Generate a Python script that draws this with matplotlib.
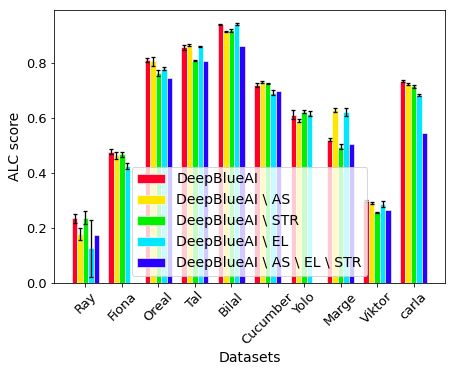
import numpy as np
import matplotlib
matplotlib.use("Agg")
import matplotlib.pyplot as plt

datasets = ["Ray", "Fiona", "Oreal", "Tal", "Bilal", "Cucumber", "Yolo", "Marge", "Viktor", "carla"]
labels = ["DeepBlueAI", "DeepBlueAI \\ AS", "DeepBlueAI \\ STR",
          "DeepBlueAI \\ EL", "DeepBlueAI \\ AS \\ EL \\ STR"]

full      = [0.235, 0.478, 0.812, 0.858, 0.941, 0.720, 0.612, 0.522, 0.297, 0.736]
no_as     = [0.177, 0.464, 0.806, 0.866, 0.914, 0.731, 0.591, 0.629, 0.290, 0.725]
no_str    = [0.238, 0.468, 0.764, 0.809, 0.920, 0.727, 0.623, 0.496, 0.258, 0.715]
no_el     = [0.126, 0.426, 0.780, 0.862, 0.943, 0.692, 0.616, 0.622, 0.286, 0.685]
no_all    = [0.173, 0.0,   0.747, 0.808, 0.863, 0.700, 0.0,   0.507, 0.264, 0.547]

err_full   = [0.015, 0.010, 0.008, 0.009, 0.003, 0.008, 0.016, 0.007, 0.004, 0.003]
err_no_as  = [0.022, 0.014, 0.015, 0.004, 0.002, 0.004, 0.006, 0.006, 0.004, 0.003]
err_no_str = [0.025, 0.009, 0.010, 0.003, 0.005, 0.002, 0.006, 0.009, 0.002, 0.005]
err_no_el  = [0.105, 0.010, 0.006, 0.002, 0.003, 0.009, 0.010, 0.013, 0.011, 0.004]

series = [full, no_as, no_str, no_el, no_all]
errors = [err_full, err_no_as, err_no_str, err_no_el, None]
colors = ["#FF0028", "#FFE600", "#00F000", "#00E8FF", "#2A00FF"]

fig = plt.figure(figsize=(455 / 72, 375 / 72), dpi=72)
ax = fig.add_axes([54 / 455, 92 / 375, 391 / 455, 273 / 375])

x = np.arange(len(datasets))
width = 0.15
for i, (vals, err, col, lab) in enumerate(zip(series, errors, colors, labels)):
    ax.bar(x + (i - 2) * width, vals, width, color=col, edgecolor="white",
           linewidth=0.6, label=lab, yerr=err,
           error_kw=dict(ecolor="black", elinewidth=1.3, capsize=2, capthick=1.3))

ax.set_xticks(x)
ax.set_xticklabels(datasets, rotation=45, fontsize=13)
ax.tick_params(axis="y", labelsize=13)
ax.set_xlabel("Datasets", fontsize=14)
ax.set_ylabel("ALC score", fontsize=14)
ax.legend(loc="lower center", fontsize=14)

fig.savefig("out.png", dpi=72)
